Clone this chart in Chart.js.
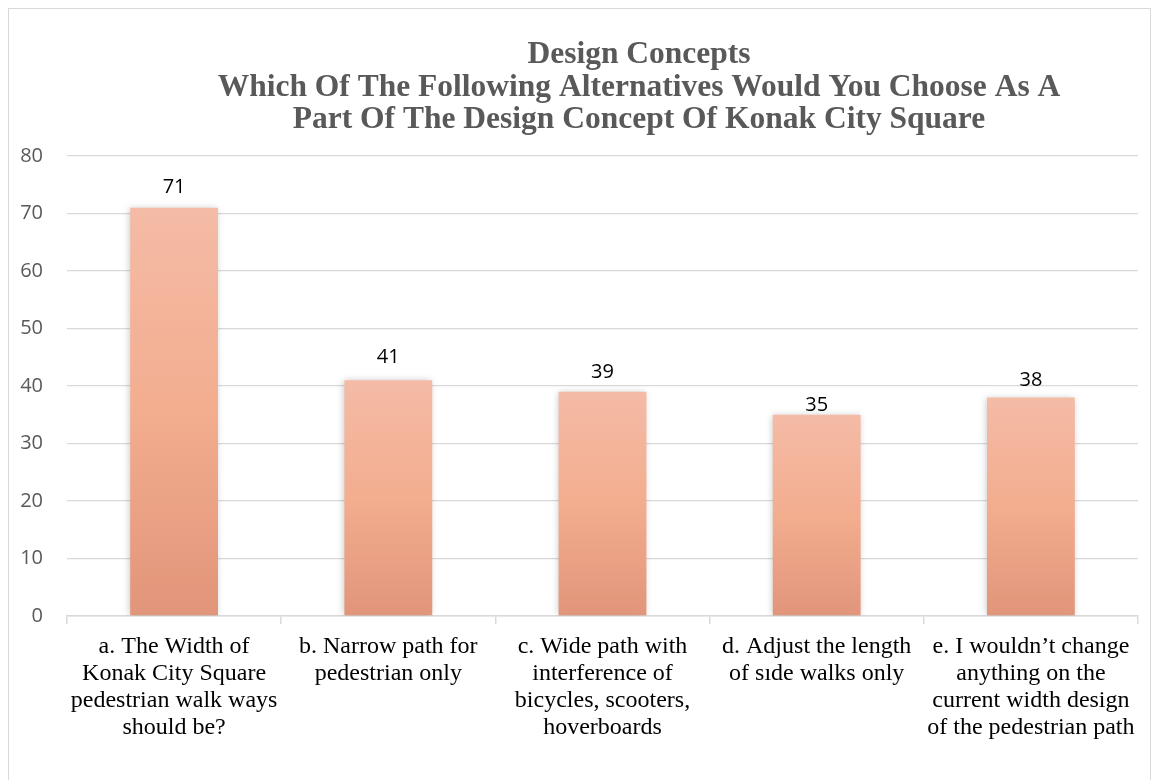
<!DOCTYPE html>
<html>
<head>
<meta charset="utf-8">
<script src="https://cdn.jsdelivr.net/npm/chart.js@4"></script>
<style>
  html, body { margin: 0; padding: 0; background: #fff; }
  #wrap { position: relative; width: 1156px; height: 780px; overflow: hidden; }
  #frame {
    position: absolute; left: 8px; top: 8px; width: 1141px; height: 800px;
    border: 1px solid #D9D9D9; pointer-events: none;
  }
  canvas { position: absolute; left: 0; top: 0; }
</style>
</head>
<body>
<div id="wrap">
  <canvas id="conceptChart" width="1156" height="780"></canvas>
  <div id="frame"></div>
</div>
<script>
const titleLines = [
    "Design Concepts",
    "Which Of The Following Alternatives Would You Choose As A",
    "Part Of The Design Concept Of Konak City Square"
];

const categories = [
    ["a. The Width of", "Konak City Square", "pedestrian walk ways", "should be?"],
    ["b. Narrow path for", "pedestrian only"],
    ["c. Wide path with", "interference of", "bicycles, scooters,", "hoverboards"],
    ["d. Adjust the length", "of sıde walks only"],
    ["e. I wouldn’t change", "anything on the", "current width design", "of the pedestrian path"]
];

const answers = [71, 41, 39, 35, 38];

const yTicks = [0, 10, 20, 30, 40, 50, 60, 70, 80];

// how far each value label sits above its bar
const labelLift = [20, 23, 19, 9, 17];

const sansFont = "'Open Sans', 'Noto Sans', sans-serif";
const serifFont = "'Liberation Serif', 'DejaVu Serif', serif";

function barGradient(context) {
    const chart = context.chart;
    if (!chart.chartArea || context.parsed == null) return '#F3AD8F';
    const y = chart.scales.y;
    const top = y.getPixelForValue(context.parsed.y);
    const base = y.getPixelForValue(0);
    const g = chart.ctx.createLinearGradient(0, top, 0, base);
    g.addColorStop(0, '#F4BBA6');
    g.addColorStop(0.5, '#F3AD8F');
    g.addColorStop(1, '#E1957A');
    return g;
}

const titlePlugin = {
    id: 'stackedTitle',
    afterDraw(chart) {
        const ctx = chart.ctx;
        ctx.save();
        ctx.font = "bold 31.5px " + serifFont;
        ctx.fillStyle = '#595959';
        ctx.textAlign = 'center';
        ctx.textBaseline = 'middle';
        titleLines.forEach((line, i) => {
            ctx.fillText(line, 639, 55 + i * 32.5);
        });
        ctx.restore();
    }
};

const barShadow = {
    id: 'barShadow',
    beforeDatasetsDraw(chart) {
        const ctx = chart.ctx;
        ctx.save();
        ctx.shadowColor = 'rgba(0,0,0,0.22)';
        ctx.shadowBlur = 7;
        ctx.shadowOffsetX = -1;
    },
    afterDatasetsDraw(chart) {
        chart.ctx.restore();
    }
};

const valueLabels = {
    id: 'valueLabels',
    afterDatasetsDraw(chart) {
        const ctx = chart.ctx;
        const meta = chart.getDatasetMeta(0);
        ctx.save();
        ctx.font = "20px " + sansFont;
        ctx.fillStyle = '#000';
        ctx.textAlign = 'center';
        ctx.textBaseline = 'middle';
        meta.data.forEach((bar, i) => {
            ctx.fillText(String(answers[i]), bar.x, bar.y - labelLift[i]);
        });
        ctx.restore();
    }
};

new Chart(document.getElementById('conceptChart'), {
    type: 'bar',
    data: {
        labels: categories,
        datasets: [{
            data: answers,
            backgroundColor: barGradient,
            borderWidth: 0,
            categoryPercentage: 1,
            barPercentage: 0.41
        }]
    },
    options: {
        responsive: false,
        animation: false,
        devicePixelRatio: 1,
        layout: { padding: { top: 156, right: 18, left: 0, bottom: 0 } },
        plugins: {
            legend: { display: false },
            tooltip: { enabled: false }
        },
        scales: {
            y: {
                min: 0,
                max: 80,
                afterBuildTicks(scale) {
                    scale.ticks = yTicks.map(v => ({ value: v }));
                },
                afterFit(scale) { scale.width = 67; },
                border: { display: false },
                grid: { color: '#D9D9D9', lineWidth: 1.3, drawTicks: false },
                ticks: {
                    padding: 24,
                    color: '#595959',
                    font: { family: sansFont, size: 20 }
                }
            },
            x: {
                afterFit(scale) { scale.height = 780 - 616; },
                border: { color: '#D9D9D9', width: 1.5 },
                grid: {
                    offset: true,
                    drawOnChartArea: false,
                    drawTicks: true,
                    tickLength: 8,
                    color: '#D9D9D9',
                    lineWidth: 1.5
                },
                ticks: {
                    padding: 9,
                    maxRotation: 0,
                    autoSkip: false,
                    color: '#000',
                    font: { family: serifFont, size: 24, lineHeight: 1.13 }
                }
            }
        }
    },
    plugins: [titlePlugin, barShadow, valueLabels]
});
</script>
</body>
</html>
